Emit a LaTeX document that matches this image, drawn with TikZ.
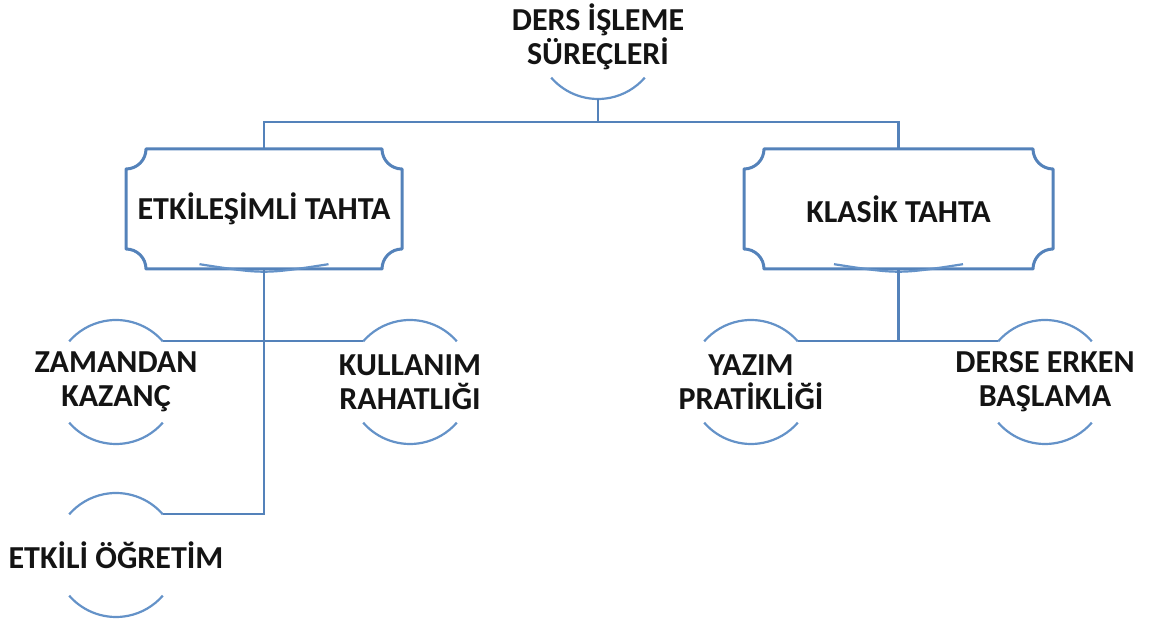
\documentclass[tikz,border=0pt]{standalone}
\usepackage{fontspec}
\setmainfont{Carlito}
\definecolor{lineblue}{RGB}{84,130,186}
\definecolor{arcblue}{RGB}{100,146,200}
\tikzset{
  lbl/.style={font=\bfseries\fontsize{32}{34}\selectfont, align=center, inner sep=0pt, text=black!92},
  conn/.style={draw=lineblue, line width=2.2pt},
  boxline/.style={draw=lineblue, line width=3pt, line join=round},
  arcline/.style={draw=arcblue, line width=2.2pt},
}
\newcommand\circarcs[1]{%
  \draw[arcline] ([shift={(41:62pt)}]#1.center) coordinate (#1-r) arc[start angle=41,end angle=139,radius=62pt] coordinate (#1-l);
  \draw[arcline] ([shift={(221:62pt)}]#1.center) arc[start angle=221,end angle=319,radius=62pt];}
\newcommand\plaquebox[4]{% name, half width, half height, radius
  \draw[boxline] ([shift={(-#2+#4,#3)}]#1.center) -- ([shift={(#2-#4,#3)}]#1.center)
    arc[start angle=180,end angle=270,radius=#4]
    -- ([shift={(#2,-#3+#4)}]#1.center)
    arc[start angle=90,end angle=180,radius=#4]
    -- ([shift={(-#2+#4,-#3)}]#1.center)
    arc[start angle=0,end angle=90,radius=#4]
    -- ([shift={(-#2,#3-#4)}]#1.center)
    arc[start angle=270,end angle=360,radius=#4] -- cycle;
  \draw[arcline] ([shift={(-64.5pt,5pt)}]#1.south) .. controls ([shift={(0pt,-5pt)}]#1.south) .. ([shift={(64.5pt,5pt)}]#1.south);}
\begin{document}
\begin{tikzpicture}[x=1pt,y=1pt]
\useasboundingbox (0,0) rectangle (1149,620);
% top
\node[lbl] (t) at (598,583) {DERS İŞLEME\\SÜREÇLERİ};
\draw[arcline] ([shift={(221:62pt)}]t.center) arc[start angle=221,end angle=319,radius=62pt] ;
\path ([shift={(270:62pt)}]t.center) coordinate (t-b);
% boxes
\node[lbl, minimum width=276pt, minimum height=120pt] (b1) at (264,411) {ETKİLEŞİMLİ TAHTA};
\node[lbl, minimum width=309pt, minimum height=120pt] (b2) at (898.5,411) {KLASİK TAHTA};
\plaquebox{b1}{138pt}{60pt}{20pt}
\plaquebox{b2}{154.5pt}{60pt}{20pt}
% level 2
\node[lbl] (c1) at (116,238) {ZAMANDAN\\KAZANÇ};
\node[lbl] (c2) at (410,238) {KULLANIM\\RAHATLIĞI};
\node[lbl] (c3) at (116,65) {ETKİLİ ÖĞRETİM};
\node[lbl] (c4) at (751,238) {YAZIM\\PRATİKLİĞİ};
\node[lbl] (c5) at (1045,238) {DERSE ERKEN\\BAŞLAMA};
\circarcs{c1}\circarcs{c2}\circarcs{c3}\circarcs{c4}\circarcs{c5}
% connectors
\draw[conn] (t-b) -- ++(0,-23) coordinate (j);
\draw[conn] (j) -| (b1.north);
\draw[conn] (j) -| (b2.north);
\draw[conn] (c1-r) -- (c2-l);
\draw[conn] (b1.south) |- (c3-r);
\draw[conn] (c4-r) -- (c5-l);
\draw[conn] (b2.south) -- (b2.south |- c4-r);
\end{tikzpicture}
\end{document}
